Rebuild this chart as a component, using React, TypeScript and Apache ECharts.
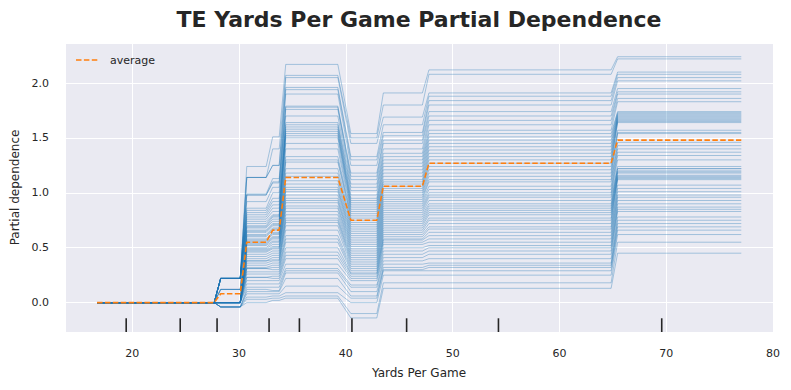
import React, { useEffect, useRef } from "react";
import * as echarts from "echarts";

// Grid points of the feature (x) where the ICE curves change level
const X_POINTS = [16.70, 27.67, 28.28, 30.11, 30.72, 32.54, 33.15, 33.76, 34.37, 39.25, 40.47, 42.90, 43.51, 47.17, 47.78, 64.84, 65.45, 77.03];
// which plateau each grid point belongs to
const POINT_PLATEAU = [0, 0, 1, 1, 2, 2, 3, 3, 4, 4, 5, 5, 6, 6, 7, 7, 8, 8];

// average partial dependence per plateau
const AVERAGE = [0, 0.08, 0.55, 0.66, 1.14, 0.75, 1.06, 1.27, 1.48];

// individual (ICE) curve levels per plateau, ordered line by line
const ICE_P1 = [
  0.22, 0.22, 0.22, 0.22, 0.22, 0.22, 0.22, 0.22, 0.22, 0.22,
  0.22, 0.22, 0.22, 0.22, 0.22, 0.22, 0.22, 0.22, 0.12, 0.12,
  0.12, 0.12, 0.0, 0.0, 0.0, 0.0, 0.0, 0.0, 0.0, 0.0,
  0.0, 0.0, 0.0, 0.0, 0.0, 0.0, 0.0, 0.0, 0.0, 0.0,
  0.0, 0.0, 0.0, 0.0, 0.0, 0.0, 0.0, 0.0, 0.0, 0.0,
  0.0, 0.0, 0.0, 0.0, -0.04, -0.04, -0.04, -0.04, -0.04, -0.04,
];
const ICE_P2 = [
  1.24, 1.14, 1.14, 1.14, 0.99, 0.98, 0.98, 0.92, 0.86, 0.84,
  0.82, 0.80, 0.78, 0.76, 0.74, 0.72, 0.70, 0.69, 0.68, 0.66,
  0.65, 0.64, 0.62, 0.61, 0.60, 0.58, 0.57, 0.56, 0.55, 0.54,
  0.53, 0.52, 0.50, 0.49, 0.48, 0.47, 0.46, 0.44, 0.42, 0.40,
  0.38, 0.38, 0.36, 0.34, 0.32, 0.31, 0.31, 0.28, 0.26, 0.23,
  0.23, 0.20, 0.17, 0.14, 0.12, 0.10, 0.08, 0.05, 0.03, 0.00,
];
const ICE_P3 = [
  1.51, 1.40, 1.25, 1.25, 1.13, 1.10, 1.09, 1.05, 1.00, 0.95,
  0.92, 0.89, 0.86, 0.83, 0.80, 0.79, 0.78, 0.76, 0.74, 0.72,
  0.71, 0.70, 0.68, 0.67, 0.66, 0.64, 0.63, 0.62, 0.60, 0.59,
  0.58, 0.56, 0.55, 0.53, 0.51, 0.50, 0.49, 0.47, 0.45, 0.43,
  0.41, 0.39, 0.38, 0.36, 0.34, 0.32, 0.30, 0.28, 0.26, 0.24,
  0.22, 0.20, 0.17, 0.14, 0.11, 0.10, 0.08, 0.06, 0.04, 0.02,
];
const ICE_P4 = [
  2.17, 2.07, 2.05, 1.96, 1.94, 1.90, 1.79, 1.78, 1.76, 1.70,
  1.64, 1.62, 1.60, 1.58, 1.56, 1.54, 1.52, 1.50, 1.45, 1.40,
  1.33, 1.30, 1.28, 1.22, 1.18, 1.15, 1.11, 1.08, 1.05, 1.03,
  1.01, 0.98, 0.95, 0.93, 0.91, 0.88, 0.86, 0.83, 0.80, 0.77,
  0.75, 0.73, 0.70, 0.66, 0.61, 0.58, 0.55, 0.50, 0.46, 0.43,
  0.40, 0.35, 0.31, 0.29, 0.27, 0.22, 0.15, 0.09, 0.06, 0.04,
];
const ICE_P5 = [
  1.54, 1.50, 1.45, 1.33, 1.30, 1.25, 1.18, 1.15, 1.12, 1.08,
  1.05, 1.02, 0.98, 0.95, 0.93, 0.91, 0.89, 0.87, 0.85, 0.83,
  0.81, 0.79, 0.77, 0.75, 0.73, 0.71, 0.69, 0.67, 0.65, 0.63,
  0.61, 0.59, 0.57, 0.55, 0.53, 0.51, 0.49, 0.47, 0.45, 0.43,
  0.41, 0.39, 0.37, 0.35, 0.33, 0.31, 0.29, 0.27, 0.26, 0.24,
  0.22, 0.20, 0.16, 0.14, 0.10, 0.06, 0.04, 0.00, -0.10, -0.14,
];
const ICE_P6 = [
  1.91, 1.80, 1.69, 1.62, 1.55, 1.52, 1.48, 1.45, 1.40, 1.36,
  1.33, 1.30, 1.27, 1.24, 1.21, 1.18, 1.15, 1.12, 1.10, 1.08,
  1.06, 1.04, 1.02, 1.00, 0.98, 0.96, 0.94, 0.92, 0.90, 0.88,
  0.86, 0.84, 0.82, 0.80, 0.78, 0.76, 0.74, 0.72, 0.70, 0.68,
  0.66, 0.64, 0.62, 0.60, 0.58, 0.57, 0.55, 0.53, 0.50, 0.47,
  0.44, 0.41, 0.38, 0.35, 0.32, 0.30, 0.29, 0.25, 0.18, 0.13,
];
const ICE_P7 = [
  2.12, 2.08, 1.91, 1.88, 1.84, 1.80, 1.74, 1.70, 1.66, 1.62,
  1.57, 1.54, 1.51, 1.48, 1.45, 1.42, 1.39, 1.36, 1.33, 1.30,
  1.27, 1.24, 1.21, 1.18, 1.15, 1.12, 1.10, 1.06, 1.03, 1.00,
  0.98, 0.96, 0.93, 0.90, 0.88, 0.86, 0.84, 0.82, 0.80, 0.77,
  0.75, 0.72, 0.69, 0.67, 0.64, 0.61, 0.58, 0.55, 0.52, 0.50,
  0.47, 0.44, 0.40, 0.36, 0.34, 0.32, 0.29, 0.25, 0.18, 0.13,
];
const ICE_P8 = [
  2.24, 2.22, 2.10, 2.08, 2.05, 2.02, 1.95, 1.92, 1.90, 1.86,
  1.83, 1.74, 1.73, 1.72, 1.71, 1.70, 1.69, 1.68, 1.67, 1.66,
  1.65, 1.64, 1.57, 1.55, 1.54, 1.46, 1.43, 1.40, 1.37, 1.34,
  1.30, 1.24, 1.22, 1.22, 1.20, 1.19, 1.18, 1.16, 1.15, 1.14,
  1.13, 1.12, 1.07, 1.04, 1.01, 0.98, 0.96, 0.93, 0.90, 0.87,
  0.85, 0.83, 0.78, 0.75, 0.72, 0.69, 0.66, 0.62, 0.55, 0.45,
];

// deciles of the feature (rug marks)
const DECILES = [19.43, 24.49, 27.94, 32.81, 35.65, 40.57, 45.69, 54.29, 69.58];

const X_TICKS = [20, 30, 40, 50, 60, 70, 80];
const Y_TICKS = [0.0, 0.5, 1.0, 1.5, 2.0];

const X_MIN = 13.7;
const X_MAX = 80;
const Y_MIN = -0.268;
const Y_MAX = 2.365;
const RUG_HEIGHT = 0.125;

const FONT = "DejaVu Sans";
const TEXT = "#262626";

export default function App() {
  const ref = useRef<HTMLDivElement>(null);

  useEffect(() => {
    if (!ref.current) return;
    const chart = echarts.init(ref.current, undefined, { renderer: "svg" });

    const plateaus = [null, ICE_P1, ICE_P2, ICE_P3, ICE_P4, ICE_P5, ICE_P6, ICE_P7, ICE_P8];
    const iceLines = ICE_P1.map((_, i) => ({
      coords: X_POINTS.map((x, j) => {
        const p = POINT_PLATEAU[j];
        const arr = plateaus[p];
        return [x, arr ? arr[i] : 0];
      }),
    }));
    const avgData = X_POINTS.map((x, j) => [x, AVERAGE[POINT_PLATEAU[j]]]);

    chart.setOption({
      animation: false,
      backgroundColor: "#ffffff",
      textStyle: { fontFamily: FONT },
      graphic: [
        {
          type: "text",
          x: 419,
          y: 19,
          style: {
            text: "TE Yards Per Game Partial Dependence",
            x: 0,
            y: 0,
            fill: TEXT,
            font: `bold 22px ${FONT}`,
            align: "center",
            verticalAlign: "middle",
          },
        },
        {
          type: "line",
          shape: { x1: 76, y1: 60, x2: 99, y2: 60 },
          style: { stroke: "#ff7f0e", lineWidth: 1.6, lineDash: [5.5, 2.4] },
          z: 10,
        },
        {
          type: "text",
          x: 110,
          y: 60,
          style: {
            text: "average",
            fill: TEXT,
            font: `11px ${FONT}`,
            align: "left",
            verticalAlign: "middle",
          },
          z: 10,
        },
      ],
      grid: {
        left: 65,
        right: 18,
        top: 43,
        bottom: 58,
        show: true,
        backgroundColor: "#eaeaf2",
        borderWidth: 0,
      },
      xAxis: {
        type: "value",
        min: X_MIN,
        max: X_MAX,
        name: "Yards Per Game",
        nameLocation: "middle",
        nameGap: 35,
        nameTextStyle: { fontSize: 12, color: TEXT, fontFamily: FONT },
        axisLine: { show: false },
        axisTick: { show: false },
        axisLabel: {
          fontSize: 11,
          color: TEXT,
          fontFamily: FONT,
          margin: 16,
          formatter: (v: number) => (X_TICKS.some((t) => Math.abs(t - v) < 1e-6) ? String(v) : ""),
        },
        splitLine: { show: true, lineStyle: { color: "#ffffff", width: 1 } },
      },
      yAxis: {
        type: "value",
        min: Y_MIN,
        max: Y_MAX,
        name: "Partial dependence",
        nameLocation: "middle",
        nameGap: 44,
        nameTextStyle: { fontSize: 12, color: TEXT, fontFamily: FONT },
        axisLine: { show: false },
        axisTick: { show: false },
        axisLabel: {
          fontSize: 11,
          color: TEXT,
          fontFamily: FONT,
          margin: 16,
          formatter: (v: number) => {
            const t = Y_TICKS.find((tt) => Math.abs(tt - v) < 1e-6);
            return t === undefined ? "" : t.toFixed(1);
          },
        },
        splitLine: { show: true, lineStyle: { color: "#ffffff", width: 1 } },
      },
      series: [
        {
          type: "lines",
          name: "ice",
          coordinateSystem: "cartesian2d",
          polyline: true,
          large: false,
          silent: true,
          z: 2,
          lineStyle: { color: "#1f77b4", width: 0.8, opacity: 0.45 },
          data: iceLines,
        },
        {
          type: "line",
          name: "average",
          data: avgData,
          symbol: "none",
          z: 3,
          itemStyle: { color: "#ff7f0e" },
          lineStyle: { color: "#ff7f0e", width: 1.6, type: [5.5, 2.4] },
        },
        {
          type: "custom",
          name: "deciles",
          z: 4,
          silent: true,
          data: DECILES.map((d) => [d, Y_MIN]),
          renderItem: (params: any, api: any) => {
            const x = api.value(0);
            const p0 = api.coord([x, Y_MIN]);
            const p1 = api.coord([x, Y_MIN + RUG_HEIGHT]);
            return {
              type: "line",
              shape: { x1: p0[0], y1: p0[1], x2: p1[0], y2: p1[1] },
              style: { stroke: "#262626", lineWidth: 1.6 },
            };
          },
        },
      ],
    });

    return () => chart.dispose();
  }, []);

  return <div ref={ref} style={{ width: 791, height: 390, position: "absolute", left: 0, top: 0 }} />;
}
